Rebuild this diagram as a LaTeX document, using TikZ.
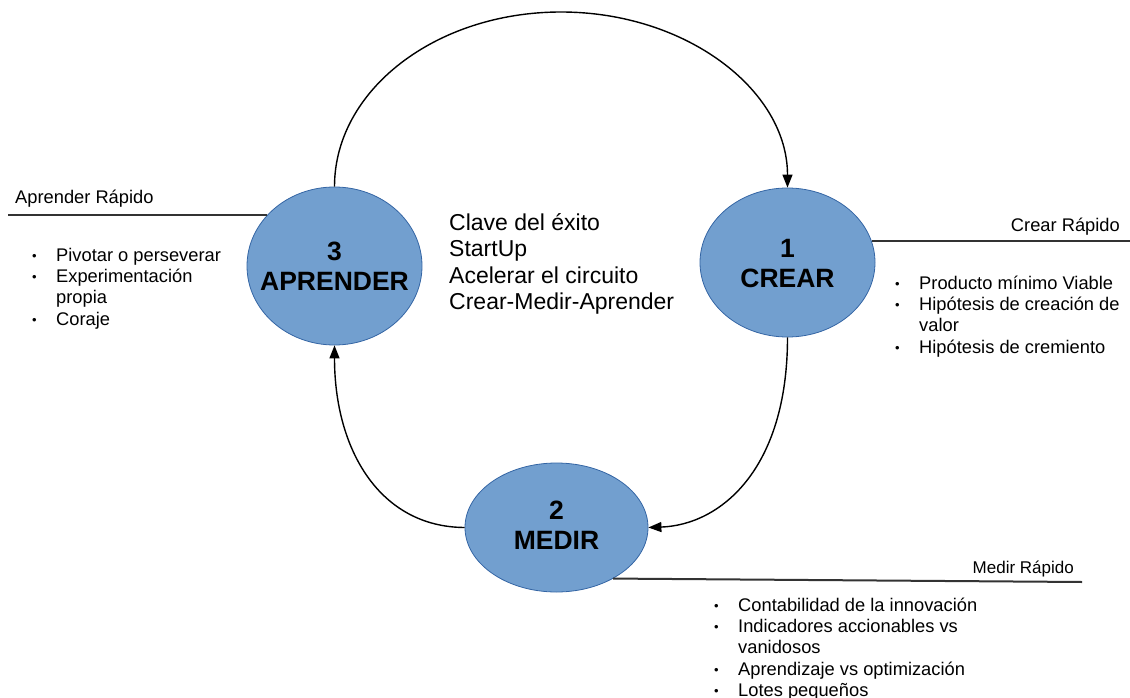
\documentclass[tikz,border=0pt]{standalone}
\usepackage{fontspec}
\setmainfont{Liberation Sans}
\usetikzlibrary{arrows.meta,shapes.geometric}
\definecolor{nodefill}{HTML}{729FCF}
\definecolor{nodeline}{HTML}{3465A4}
\newcommand{\bul}{\makebox[24pt][l]{\raisebox{1pt}{\fontsize{13}{13}\selectfont\textbullet}}}
\newcommand{\nob}{\hspace*{24pt}}
\begin{document}
\begin{tikzpicture}[x=1pt,y=-1pt,
  stage/.style={ellipse, draw=nodeline, fill=nodefill, line width=0.8pt, inner sep=0pt},
  stagetext/.style={inner sep=0pt, font=\fontsize{26.5}{30}\selectfont\bfseries},
  blocktext/.style={inner sep=0pt, anchor=north west, font=\fontsize{18.3}{21.4}\selectfont},
  keytext/.style={inner sep=0pt, anchor=north west, font=\fontsize{23}{26.5}\selectfont},
  ruletext/.style={inner sep=0pt, font=\fontsize{18.3}{21.4}\selectfont},
  flow/.style={line width=1.4pt, -{Triangle[length=13pt,width=10pt]}},
  rulestyle/.style={line width=2pt, draw=black!80}]
\useasboundingbox (0,0) rectangle (1130,698);

% stages
\node[stage, minimum width=175pt, minimum height=158pt] (aprender) at (334.5,266) {};
\node[stage, minimum width=175pt, minimum height=149pt] (crear) at (787.5,262.5) {};
\node[stage, minimum width=183pt, minimum height=129pt] (medir) at (556.5,527.5) {};
\node[stagetext] (aprenderlbl) at (334.5,269) {\begin{tabular}{@{}c@{}}3\\APRENDER\end{tabular}};
\node[stagetext] (crearlbl) at (787.5,266) {\begin{tabular}{@{}c@{}}1\\CREAR\end{tabular}};
\node[stagetext] (medirlbl) at (556.5,528.5) {\begin{tabular}{@{}c@{}}2\\MEDIR\end{tabular}};

% central key text
\node[keytext] (key) at (449,211.5) {\begin{tabular}{@{}l@{}}Clave del éxito\\StartUp\\Acelerar el circuito\\Crear-Medir-Aprender\end{tabular}};

% cycle connectors
\coordinate (top) at (561,12);
\draw[flow] (aprender.north) .. controls (334.5,90) and (436,12) .. (top)
            .. controls (686,12) and (787.5,90) .. (crear.north);
\draw[flow] (crear.south) .. controls (787.5,470) and (720,525) .. (medir.east);
\draw[flow] (medir.west) .. controls (380,527) and (334.5,450) .. (aprender.south);

% Aprender rapido
\coordinate (aL) at (8,0);
\draw[rulestyle] (aL |- aprender.143) -- (aprender.143);
\node[ruletext, anchor=base west] (alabel) at (15,204) {Aprender Rápido};
\node[blocktext] (ablock) at (32,246) {\begin{tabular}{@{}l@{}}\bul Pivotar o perseverar\\\bul Experimentación\\\nob propia\\\bul Coraje\end{tabular}};

% Crear rapido
\coordinate (cR) at (1130,0);
\draw[rulestyle] (crear.14) -- (cR |- crear.14);
\node[ruletext, anchor=base east] (clabel) at (1120,231) {Crear Rápido};
\node[blocktext] (cblock) at (895,274) {\begin{tabular}{@{}l@{}}\bul Producto mínimo Viable\\\bul Hipótesis de creación de\\\nob valor\\\bul Hipótesis de cremiento\end{tabular}};

% Medir rapido
\coordinate (mR) at (1082,582);
\draw[rulestyle] (medir.-42) -- (mR);
\node[ruletext, anchor=base east, font=\fontsize{17}{20}\selectfont] (mlabel) at (1074,573) {Medir Rápido};
\node[blocktext] (mblock) at (714,596) {\begin{tabular}{@{}l@{}}\bul Contabilidad de la innovación\\\bul Indicadores accionables vs\\\nob vanidosos\\\bul Aprendizaje vs optimización\\\bul Lotes pequeños\end{tabular}};
\end{tikzpicture}
\end{document}
